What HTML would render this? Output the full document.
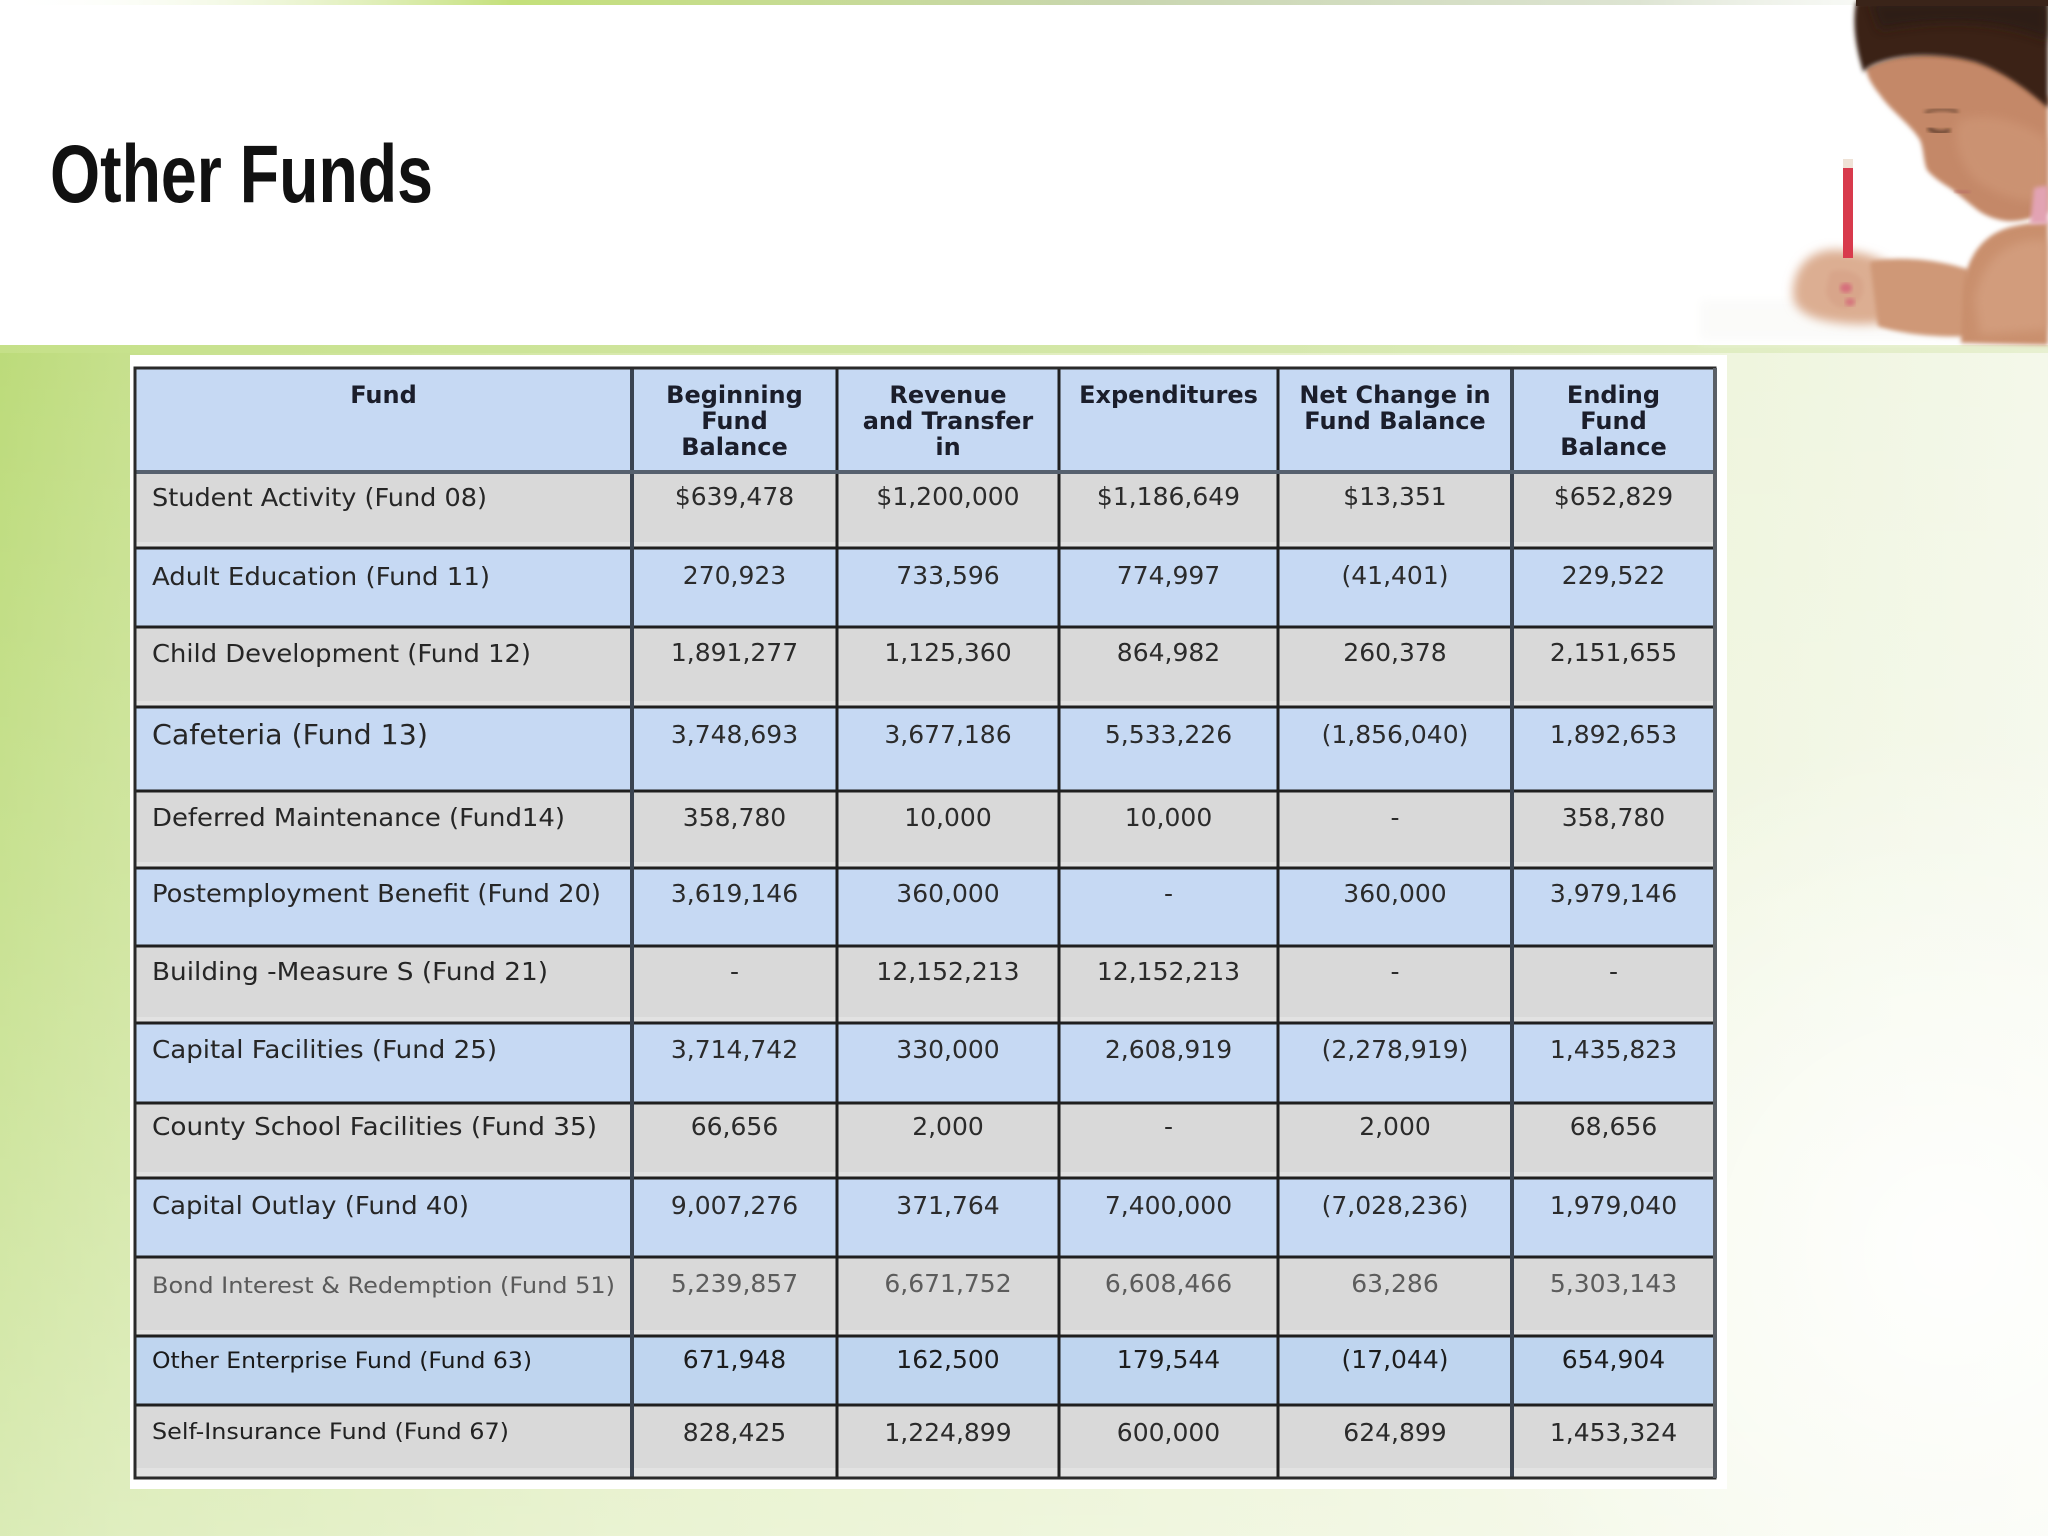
<!DOCTYPE html>
<html>
<head>
<meta charset="utf-8">
<style>
  html,body{margin:0;padding:0;background:#fff;width:2048px;height:1536px;overflow:hidden;}
  body{position:relative;}
  svg{display:block;position:absolute;left:0;top:0;}
</style>
</head>
<body>
<svg width="2048" height="1536" viewBox="0 0 2048 1536" xmlns="http://www.w3.org/2000/svg" overflow="hidden">
  <defs>
    <linearGradient id="bandH" x1="0" y1="0" x2="1" y2="0">
      <stop offset="0" stop-color="#bcdb7a"/>
      <stop offset="0.06" stop-color="#c6e08c"/>
      <stop offset="0.3" stop-color="#d8e9ad"/>
      <stop offset="0.62" stop-color="#e6f0c9"/>
      <stop offset="0.85" stop-color="#eff5de"/>
      <stop offset="1" stop-color="#f4f8ea"/>
    </linearGradient>
    <linearGradient id="bandV" x1="0" y1="0" x2="0" y2="1">
      <stop offset="0" stop-color="#ffffff" stop-opacity="0"/>
      <stop offset="0.5" stop-color="#ffffff" stop-opacity="0.2"/>
      <stop offset="1" stop-color="#ffffff" stop-opacity="0.45"/>
    </linearGradient>
    <radialGradient id="glow" gradientUnits="userSpaceOnUse" cx="1950" cy="1250" r="520">
      <stop offset="0" stop-color="#ffffff" stop-opacity="1"/>
      <stop offset="1" stop-color="#ffffff" stop-opacity="0"/>
    </radialGradient>
    <linearGradient id="topStrip" x1="0" y1="0" x2="1" y2="0">
      <stop offset="0" stop-color="#ffffff" stop-opacity="0"/>
      <stop offset="0.25" stop-color="#c4e07a"/>
      <stop offset="0.55" stop-color="#c9d6b0"/>
      <stop offset="0.8" stop-color="#dde4d2"/>
      <stop offset="1" stop-color="#ffffff" stop-opacity="0"/>
    </linearGradient>
    <linearGradient id="bandTop" x1="0" y1="0" x2="1" y2="0">
      <stop offset="0" stop-color="#c6e18a"/>
      <stop offset="0.6" stop-color="#d3e7a8"/>
      <stop offset="1" stop-color="#e6efce"/>
    </linearGradient>
    <filter id="soft" x="-10%" y="-10%" width="120%" height="120%">
      <feGaussianBlur stdDeviation="2.2"/>
    </filter>
    <filter id="softer" x="-20%" y="-20%" width="140%" height="140%">
      <feGaussianBlur stdDeviation="5"/>
    </filter>
    <clipPath id="pageClip"><rect x="0" y="0" width="2048" height="1536"/></clipPath>
  </defs>

  <g clip-path="url(#pageClip)">
  <!-- page background -->
  <rect x="0" y="0" width="2048" height="1536" fill="#ffffff"/>
  <rect x="0" y="0" width="2048" height="5" fill="url(#topStrip)"/>

  <!-- green band -->
  <rect x="0" y="345" width="2048" height="1191" fill="url(#bandH)"/>
  <rect x="0" y="345" width="2048" height="1191" fill="url(#bandV)"/>
  <rect x="1430" y="730" width="618" height="806" fill="url(#glow)" opacity="0.9"/>
  <rect x="0" y="345" width="2048" height="8" fill="url(#bandTop)" opacity="0.9"/>

  <!-- girl illustration (approximate) -->
  <g>
    <rect x="1700" y="300" width="348" height="40" fill="#fbfbf9" filter="url(#softer)"/>
    <path d="M1793,290 C1795,262 1815,248 1840,250 C1865,252 1885,258 1897,272 L1900,318 C1880,326 1850,326 1822,320 C1802,315 1791,305 1793,290 Z" fill="#dcae92" filter="url(#softer)"/>
    <path d="M1870,262 C1900,255 1940,260 1970,270 L1972,336 C1940,338 1900,334 1878,326 Z" fill="#cf9877" filter="url(#soft)"/>
    <path d="M1961,343 L1963,290 C1966,255 1985,232 2015,226 C2032,222 2048,222 2048,222 L2048,345 Z" fill="#c98f6d" filter="url(#soft)"/>
    <path d="M1975,300 C1980,265 2000,245 2030,240 L2048,240 L2048,330 L1980,335 Z" fill="#d6a283" opacity="0.7" filter="url(#softer)"/>
    <path d="M1866,68 C1890,55 1930,50 1962,56 C1998,62 2030,82 2048,98 L2048,212 C2030,220 2015,222 2006,221 C1992,219 1982,214 1975,208 C1965,200 1958,194 1950,188 C1940,182 1932,176 1927,170 C1923,160 1924,150 1920,140 C1910,124 1890,110 1880,95 C1872,85 1867,77 1866,68 Z" fill="#c48867" filter="url(#soft)"/>
    <path d="M1960,120 C1990,110 2030,125 2048,140 L2048,200 C2025,205 1995,195 1975,180 C1960,165 1950,135 1960,120 Z" fill="#cf9777" opacity="0.7" filter="url(#softer)"/>
    <path d="M2034,188 C2040,186 2048,186 2048,186 L2048,224 L2030,224 Z" fill="#e2a3b3" filter="url(#soft)"/>
    <path d="M1856,2 L2048,2 L2048,108 C2030,92 2005,72 1975,62 C1945,54 1905,52 1875,64 C1866,68 1862,72 1864,74 C1856,50 1852,25 1856,2 Z" fill="#3a2419" filter="url(#soft)"/>
    <path d="M1870,2 L2048,2 L2048,40 C2000,20 1940,18 1880,30 Z" fill="#2c1a12" opacity="0.8" filter="url(#softer)"/>
    <rect x="1856" y="0" width="192" height="6" fill="#3a2419"/>
    <path d="M1928,128 C1935,133 1943,134 1950,130" stroke="#3a2419" stroke-width="3" fill="none" filter="url(#soft)"/>
    <path d="M1925,113 C1935,108 1948,108 1958,112" stroke="#5a3a2a" stroke-width="2.5" fill="none" filter="url(#soft)"/>
    <path d="M1955,190 C1960,193 1966,194 1970,192" stroke="#b86a66" stroke-width="3" fill="none" filter="url(#soft)"/>
    <rect x="1843" y="166" width="10" height="92" fill="#d83a4c"/>
    <rect x="1843" y="159" width="10" height="9" fill="#efe2d6"/>
    <path d="M1830,272 C1840,268 1856,270 1862,280 C1866,292 1860,305 1848,308 C1836,310 1826,300 1826,290 Z" fill="#d8a58a" filter="url(#soft)"/>
    <ellipse cx="1846" cy="288" rx="6" ry="5" fill="#d56078" opacity="0.8" filter="url(#soft)"/>
    <ellipse cx="1850" cy="302" rx="5" ry="4" fill="#d56078" opacity="0.7" filter="url(#soft)"/>
  </g>

  <!-- title -->
  <text x="50" y="202" font-family="'Liberation Sans', Arial, sans-serif" font-weight="bold" font-size="82" fill="#111111" textLength="383" lengthAdjust="spacingAndGlyphs">Other Funds</text>

  <!-- table white backing -->
  <rect x="130" y="355" width="1597" height="1134" fill="#ffffff"/>

  <!-- header -->
  <rect x="135" y="368" width="1580" height="104" fill="#c6d9f3"/>
  <!-- rows -->
  <g>
    <rect x="135" y="472" width="1580" height="76" fill="#d9d9d9"/>
    <rect x="135" y="548" width="1580" height="79" fill="#c6d9f3"/>
    <rect x="135" y="627" width="1580" height="80" fill="#d9d9d9"/>
    <rect x="135" y="707" width="1580" height="84" fill="#c6d9f3"/>
    <rect x="135" y="791" width="1580" height="77" fill="#d9d9d9"/>
    <rect x="135" y="868" width="1580" height="78" fill="#c6d9f3"/>
    <rect x="135" y="946" width="1580" height="77" fill="#d9d9d9"/>
    <rect x="135" y="1023" width="1580" height="80" fill="#c6d9f3"/>
    <rect x="135" y="1103" width="1580" height="75" fill="#d9d9d9"/>
    <rect x="135" y="1178" width="1580" height="79" fill="#c6d9f3"/>
    <rect x="135" y="1257" width="1580" height="79" fill="#d9d9d9"/>
    <rect x="135" y="1336" width="1580" height="69" fill="#bfd5ef"/>
    <rect x="135" y="1405" width="1580" height="73" fill="#d9d9d9"/>
    <g fill="#e4e4e4" opacity="0.8">
      <rect x="135" y="542" width="1580" height="5"/>
      <rect x="135" y="701" width="1580" height="5"/>
      <rect x="135" y="862" width="1580" height="5"/>
      <rect x="135" y="1017" width="1580" height="5"/>
      <rect x="135" y="1172" width="1580" height="5"/>
      <rect x="135" y="1330" width="1580" height="5"/>
      <rect x="135" y="1468" width="1580" height="9"/>
    </g>
  </g>

  <!-- grid lines -->
  <g stroke="#1f1f1f" stroke-width="3">
    <line x1="135" y1="548" x2="1715" y2="548"/>
    <line x1="135" y1="627" x2="1715" y2="627"/>
    <line x1="135" y1="707" x2="1715" y2="707"/>
    <line x1="135" y1="791" x2="1715" y2="791"/>
    <line x1="135" y1="868" x2="1715" y2="868"/>
    <line x1="135" y1="946" x2="1715" y2="946"/>
    <line x1="135" y1="1023" x2="1715" y2="1023"/>
    <line x1="135" y1="1103" x2="1715" y2="1103"/>
    <line x1="135" y1="1178" x2="1715" y2="1178"/>
    <line x1="135" y1="1257" x2="1715" y2="1257"/>
    <line x1="135" y1="1336" x2="1715" y2="1336"/>
    <line x1="135" y1="1405" x2="1715" y2="1405"/>
    <line x1="837" y1="368" x2="837" y2="1478"/>
    <line x1="1059" y1="368" x2="1059" y2="1478"/>
    <line x1="1278" y1="368" x2="1278" y2="1478"/>
  </g>
  <g stroke="#3a4350" stroke-width="4">
    <line x1="632" y1="368" x2="632" y2="1478"/>
    <line x1="1512" y1="368" x2="1512" y2="1478"/>
  </g>
  <line x1="135" y1="472" x2="1715" y2="472" stroke="#56616f" stroke-width="4"/>
  <rect x="135" y="368" width="1580" height="1110" fill="none" stroke="#2a2a2a" stroke-width="3"/>
  <line x1="1715" y1="368" x2="1715" y2="1478" stroke="#5a5f66" stroke-width="4"/>

  <!-- header text -->
  <g font-family="'DejaVu Sans', Verdana, sans-serif" font-weight="bold" font-size="24" fill="#1b1e2b" text-anchor="middle">
    <text x="383.5" y="403">Fund</text>
    <text x="734.5" y="403">Beginning</text>
    <text x="734.5" y="429">Fund</text>
    <text x="734.5" y="455">Balance</text>
    <text x="948" y="403">Revenue</text>
    <text x="948" y="429">and Transfer</text>
    <text x="948" y="455">in</text>
    <text x="1168.5" y="403">Expenditures</text>
    <text x="1395" y="403">Net Change in</text>
    <text x="1395" y="429">Fund Balance</text>
    <text x="1613.5" y="403">Ending</text>
    <text x="1613.5" y="429">Fund</text>
    <text x="1613.5" y="455">Balance</text>
  </g>

  <!-- fund names -->
  <g font-family="'DejaVu Sans', Verdana, sans-serif" font-size="25" fill="#262626">
    <text x="152" y="506" textLength="335" lengthAdjust="spacingAndGlyphs">Student Activity (Fund 08)</text>
    <text x="152" y="585" textLength="338" lengthAdjust="spacingAndGlyphs">Adult Education (Fund 11)</text>
    <text x="152" y="662" textLength="379" lengthAdjust="spacingAndGlyphs">Child Development (Fund 12)</text>
    <text x="152" y="744" font-size="28" textLength="276" lengthAdjust="spacingAndGlyphs">Cafeteria (Fund 13)</text>
    <text x="152" y="826" textLength="413" lengthAdjust="spacingAndGlyphs">Deferred Maintenance (Fund14)</text>
    <text x="152" y="902" textLength="449" lengthAdjust="spacingAndGlyphs">Postemployment Benefit (Fund 20)</text>
    <text x="152" y="980" textLength="396" lengthAdjust="spacingAndGlyphs">Building -Measure S (Fund 21)</text>
    <text x="152" y="1058" textLength="345" lengthAdjust="spacingAndGlyphs">Capital Facilities (Fund 25)</text>
    <text x="152" y="1135" textLength="445" lengthAdjust="spacingAndGlyphs">County School Facilities (Fund 35)</text>
    <text x="152" y="1214" textLength="317" lengthAdjust="spacingAndGlyphs">Capital Outlay (Fund 40)</text>
    <text x="152" y="1293" font-size="22" fill="#5a5a5a" textLength="463" lengthAdjust="spacingAndGlyphs">Bond Interest &amp; Redemption (Fund 51)</text>
    <text x="152" y="1368" font-size="22" fill="#1a1a1a" textLength="380" lengthAdjust="spacingAndGlyphs">Other Enterprise Fund (Fund 63)</text>
    <text x="152" y="1439" font-size="22" fill="#222222" textLength="357" lengthAdjust="spacingAndGlyphs">Self-Insurance Fund (Fund 67)</text>
  </g>

  <!-- numbers -->
  <g font-family="'DejaVu Sans', Verdana, sans-serif" font-size="25" fill="#2b2b2b" text-anchor="middle">
    <text x="734.5" y="505">$639,478</text>
    <text x="948" y="505">$1,200,000</text>
    <text x="1168.5" y="505">$1,186,649</text>
    <text x="1395" y="505">$13,351</text>
    <text x="1613.5" y="505">$652,829</text>

    <text x="734.5" y="584">270,923</text>
    <text x="948" y="584">733,596</text>
    <text x="1168.5" y="584">774,997</text>
    <text x="1395" y="584">(41,401)</text>
    <text x="1613.5" y="584">229,522</text>

    <text x="734.5" y="661">1,891,277</text>
    <text x="948" y="661">1,125,360</text>
    <text x="1168.5" y="661">864,982</text>
    <text x="1395" y="661">260,378</text>
    <text x="1613.5" y="661">2,151,655</text>

    <text x="734.5" y="743">3,748,693</text>
    <text x="948" y="743">3,677,186</text>
    <text x="1168.5" y="743">5,533,226</text>
    <text x="1395" y="743">(1,856,040)</text>
    <text x="1613.5" y="743">1,892,653</text>

    <text x="734.5" y="826">358,780</text>
    <text x="948" y="826">10,000</text>
    <text x="1168.5" y="826">10,000</text>
    <text x="1395" y="826">-</text>
    <text x="1613.5" y="826">358,780</text>

    <text x="734.5" y="902">3,619,146</text>
    <text x="948" y="902">360,000</text>
    <text x="1168.5" y="902">-</text>
    <text x="1395" y="902">360,000</text>
    <text x="1613.5" y="902">3,979,146</text>

    <text x="734.5" y="980">-</text>
    <text x="948" y="980">12,152,213</text>
    <text x="1168.5" y="980">12,152,213</text>
    <text x="1395" y="980">-</text>
    <text x="1613.5" y="980">-</text>

    <text x="734.5" y="1058">3,714,742</text>
    <text x="948" y="1058">330,000</text>
    <text x="1168.5" y="1058">2,608,919</text>
    <text x="1395" y="1058">(2,278,919)</text>
    <text x="1613.5" y="1058">1,435,823</text>

    <text x="734.5" y="1135">66,656</text>
    <text x="948" y="1135">2,000</text>
    <text x="1168.5" y="1135">-</text>
    <text x="1395" y="1135">2,000</text>
    <text x="1613.5" y="1135">68,656</text>

    <text x="734.5" y="1214">9,007,276</text>
    <text x="948" y="1214">371,764</text>
    <text x="1168.5" y="1214">7,400,000</text>
    <text x="1395" y="1214">(7,028,236)</text>
    <text x="1613.5" y="1214">1,979,040</text>

    <g fill="#5c5c5c">
      <text x="734.5" y="1292">5,239,857</text>
      <text x="948" y="1292">6,671,752</text>
      <text x="1168.5" y="1292">6,608,466</text>
      <text x="1395" y="1292">63,286</text>
      <text x="1613.5" y="1292">5,303,143</text>
    </g>

    <g fill="#1c1c1c">
      <text x="734.5" y="1368">671,948</text>
      <text x="948" y="1368">162,500</text>
      <text x="1168.5" y="1368">179,544</text>
      <text x="1395" y="1368">(17,044)</text>
      <text x="1613.5" y="1368">654,904</text>
    </g>

    <text x="734.5" y="1441">828,425</text>
    <text x="948" y="1441">1,224,899</text>
    <text x="1168.5" y="1441">600,000</text>
    <text x="1395" y="1441">624,899</text>
    <text x="1613.5" y="1441">1,453,324</text>
  </g>
  </g>
</svg>
</body>
</html>
